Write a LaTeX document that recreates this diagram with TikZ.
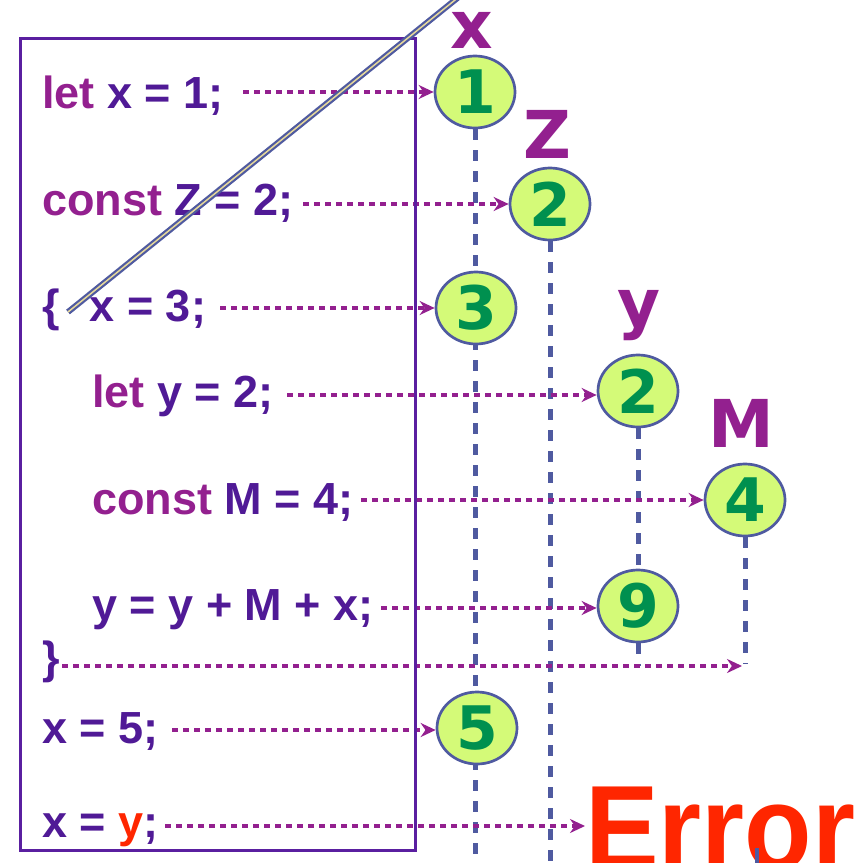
\documentclass[tikz,border=0pt]{standalone}
\usepackage{fontspec}
\setmainfont{Liberation Sans}
\newfontfamily\dvfont{DejaVu Sans}
\usetikzlibrary{shapes.geometric,arrows.meta,backgrounds}
\definecolor{kw}{HTML}{93208F}
\definecolor{codec}{HTML}{501A96}
\definecolor{boxc}{HTML}{5A1FA0}
\definecolor{arrowc}{HTML}{93208F}
\definecolor{lineblue}{HTML}{4F5AA0}
\definecolor{circfill}{HTML}{D4FA78}
\definecolor{numgreen}{HTML}{00904F}
\definecolor{errc}{HTML}{FF2600}
\definecolor{tanc}{HTML}{E6D89A}
\begin{document}
\begin{tikzpicture}[x=1pt,y=-1pt,
  code/.style={anchor=base west, inner sep=0pt, text=codec, font=\fontsize{45}{54}\selectfont\bfseries},
  val/.style={ellipse, draw=lineblue, line width=2.7pt, fill=circfill, minimum width=80pt, minimum height=72pt, inner sep=0pt, text=numgreen, font=\dvfont\fontsize{60}{60}\selectfont\bfseries},
  var/.style={anchor=base, inner sep=0pt, text=kw, font=\dvfont\fontsize{66}{70}\selectfont\bfseries},
  flow/.style={draw=arrowc, line width=3.2pt, dash pattern=on 6pt off 5pt, -{Stealth[length=15pt,width=14pt]}},
  life/.style={draw=lineblue, line width=5pt, dash pattern=on 11pt off 10pt}]
\useasboundingbox (0,0) rectangle (864,862);
\coordinate (bot) at (0,866);

% value circles
\node[val] (v1) at (475,92) {1};
\node[val] (z2) at (550,204) {2};
\node[val] (v3) at (476,308) {3};
\node[val] (y2) at (638,391) {2};
\node[val] (m4) at (745,500) {4};
\node[val] (y9) at (638,606) {9};
\node[val] (v5) at (477,728) {5};

% variable labels
\node[var] (lx) at (472,48) {x};
\node[var] (lz) at (547,158) {Z};
\node[var] (ly) at (639,326) {y};
\node[var] (lm) at (741,447) {M};

% code lines
\node[code] (t1) at (42,108) {\textcolor{kw}{let} x = 1;};
\node[code] (t2) at (42,215) {\textcolor{kw}{const} Z = 2;};
\node[code] (t3) at (42,321) {\{\hspace*{30pt}x = 3;};
\node[code] (t4) at (92,407) {\textcolor{kw}{let} y = 2;};
\node[code] (t5) at (92,514) {\textcolor{kw}{const} M = 4;};
\node[code] (t6) at (92,620) {y = y + M + x;};
\node[code] (t7) at (42,673) {\}};
\node[code] (t8) at (42,743) {x = 5;};
\node[code] (t9) at (42,837) {x = \textcolor{errc}{y};};

\node[anchor=base west, inner sep=0pt, text=errc, font=\fontsize{120}{120}\selectfont\bfseries] (err) at (585,869) {\scalebox{0.92}[1]{Error}};

% lifelines
\begin{scope}[on background layer]
\draw[life] (v1.south) -- (v1.south |- bot);
\draw[life] (z2.south) -- (z2.south |- bot);
\coordinate (e7) at (742,666);
\draw[life] (y2.south) -- (y9.north);
\draw[life] (y9.south) -- (y9.south |- e7);
\draw[life] (m4.south) -- ([yshift=2pt]m4.south |- e7);
\end{scope}

% flow arrows
\coordinate (s1) at (243,92);
\coordinate (s2) at (303,204);
\coordinate (s3) at (220,308);
\coordinate (s4) at (287,395);
\coordinate (s5) at (361,500);
\coordinate (s6) at (381,608);
\coordinate (s7) at (62,666);
\coordinate (s8) at (172,730);
\coordinate (s9) at (165,826);
\coordinate (e9) at (585,826);
\draw[flow] (s1) -- (s1 -| v1.west);
\draw[flow] (s2) -- (s2 -| z2.west);
\draw[flow] (s3) -- (s3 -| v3.west);
\draw[flow] (s4) -- (s4 -| y2.west);
\draw[flow] (s5) -- (s5 -| m4.west);
\draw[flow] (s6) -- (s6 -| y9.west);
\draw[flow] (s7) -- (e7);
\draw[flow] (s8) -- (s8 -| v5.west);
\draw[flow] (s9) -- (e9);

% code box
\draw[boxc, line width=3pt] (20,38) rectangle (415,850);

% diagonal stroke
\coordinate (d1) at (68,312);
\coordinate (d2) at (460,-4);
\draw[lineblue, line width=2.2pt, double=tanc, double distance=1.5pt] (d1) -- (d2);

% small tick
\coordinate (k1) at (757,848);
\coordinate (k2) at (757,866);
\draw[lineblue, line width=4pt] (k1) -- (k2);
\end{tikzpicture}
\end{document}
